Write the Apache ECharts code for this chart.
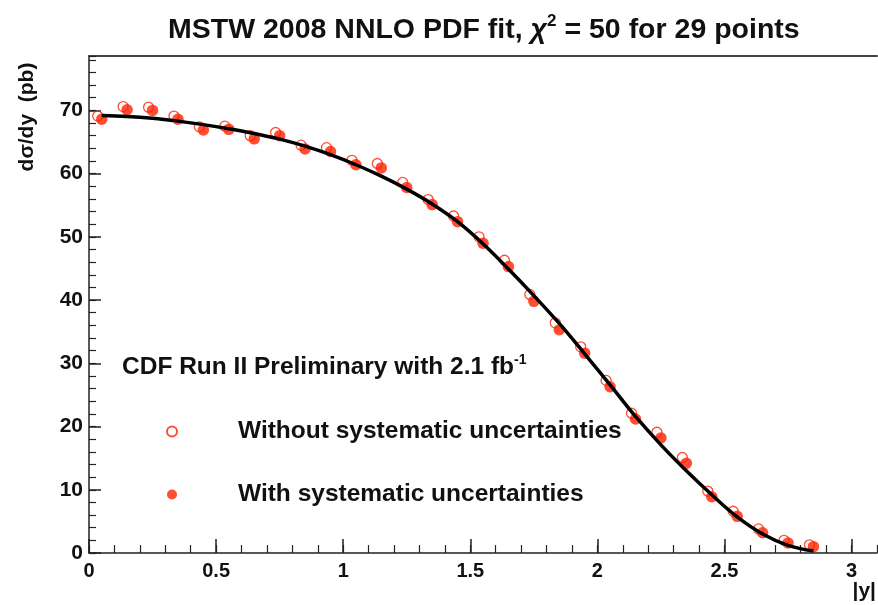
<!DOCTYPE html>
<html>
<head>
<meta charset="utf-8">
<script src="https://cdn.jsdelivr.net/npm/echarts@6/dist/echarts.min.js"></script>
<style>
html,body{margin:0;padding:0;background:#fff;}
#chart{width:878px;height:605px;}
</style>
</head>
<body>
<div id="chart"></div>
<script>
// |y| bin centres
const rapidity = [0.05,0.15,0.25,0.35,0.45,0.55,0.65,0.75,0.85,0.95,1.05,1.15,1.25,1.35,1.45,1.55,1.65,1.75,1.85,1.95,2.05,2.15,2.25,2.35,2.45,2.55,2.65,2.75,2.85];
// dσ/dy (pb), with systematic uncertainties (filled)
const xsecWithSyst = [68.6,70.1,70.0,68.6,66.9,67.0,65.5,66.0,63.9,63.5,61.4,60.9,57.8,55.1,52.4,49.0,45.3,39.8,35.3,31.6,26.3,21.2,18.2,14.2,8.9,5.8,3.2,1.6,1.0];
// dσ/dy (pb), without systematic uncertainties (open)
const xsecWithoutSyst = [69.1,70.6,70.5,69.1,67.4,67.5,66.0,66.5,64.5,64.1,62.1,61.6,58.6,55.9,53.3,50.0,46.3,40.9,36.4,32.6,27.3,22.1,19.1,15.1,9.8,6.6,3.8,2.0,1.3];
// MSTW 2008 NNLO prediction
const theoryMSTW = [69.2,69.05,68.75,68.3,67.75,67.1,66.35,65.45,64.35,63.0,61.4,59.6,57.55,55.2,52.4,48.9,44.9,40.7,36.3,31.5,26.6,21.6,17.1,13.0,9.2,5.7,3.0,1.2,0.3];
// tick labels
const xMajorTicks = [0,0.5,1,1.5,2,2.5,3];
const yMajorTicks = [0,10,20,30,40,50,60,70];

const RED = '#ff2200';
const FONT = 'Liberation Sans, Arial, Helvetica, sans-serif';

const pairs = (xs, ys) => xs.map((x, i) => [x, ys[i]]);

const chart = echarts.init(document.getElementById('chart'), null, {renderer: 'canvas'});
const axisLineStyle = {color: '#222', width: 1.5};

chart.setOption({
  animation: false,
  backgroundColor: '#fff',
  title: {
    text: '{a|MSTW 2008 NNLO PDF fit,}{c| χ}{s|2}{a| = 50 for 29 points}',
    left: 163, top: 8,
    textStyle: {
      rich: {
        a: {fontFamily: FONT, fontWeight: 'bold', fontSize: 28.5, color: '#111', lineHeight: 34},
        c: {fontFamily: FONT, fontStyle: 'italic', fontWeight: 'bold', fontSize: 28.5, color: '#111', lineHeight: 34},
        s: {fontFamily: FONT, fontWeight: 'bold', fontSize: 17, color: '#111', verticalAlign: 'top', lineHeight: 22}
      }
    }
  },
  grid: {left: 89, right: 1, top: 56, bottom: 52},
  xAxis: [
    {
      type: 'value', min: 0, max: 3.1, position: 'bottom',
      axisLine: {show: true, lineStyle: axisLineStyle},
      axisTick: {show: true, inside: true, length: 14, lineStyle: {color: '#222', width: 1.5}, customValues: xMajorTicks},
      minorTick: {show: false},
      splitLine: {show: false},
      axisLabel: {customValues: xMajorTicks, fontFamily: FONT, fontWeight: 'bold', fontSize: 20, color: '#111', margin: 8}
    },
    {
      type: 'value', min: 0, max: 3.1, interval: 0.1, position: 'bottom',
      axisLine: {show: false},
      axisTick: {show: true, inside: true, length: 8, lineStyle: {color: '#222', width: 1.2}},
      splitLine: {show: false},
      axisLabel: {show: false}
    },
    {
      type: 'value', min: 0, max: 3.1, position: 'top',
      axisLine: {show: true, lineStyle: {color: '#444', width: 2}},
      axisTick: {show: false}, splitLine: {show: false}, axisLabel: {show: false}
    }
  ],
  yAxis: [
    {
      type: 'value', min: 0, max: 78.6, position: 'left',
      axisLine: {show: true, lineStyle: axisLineStyle},
      axisTick: {show: true, inside: true, length: 12, lineStyle: {color: '#222', width: 1.5}, customValues: yMajorTicks},
      splitLine: {show: false},
      axisLabel: {customValues: yMajorTicks, fontFamily: FONT, fontWeight: 'bold', fontSize: 21, color: '#111', margin: 6}
    },
    {
      type: 'value', min: 0, max: 78.6, interval: 2, position: 'left',
      axisLine: {show: false},
      axisTick: {show: true, inside: true, length: 7, lineStyle: {color: '#222', width: 1.2}},
      splitLine: {show: false},
      axisLabel: {show: false}
    }
  ],
  legend: {
    orient: 'vertical',
    left: 161, top: 414,
    itemWidth: 10, itemHeight: 10,
    itemGap: 38,
    selectedMode: false,
    textStyle: {fontFamily: FONT, fontWeight: 'bold', fontSize: 24.5, color: '#111', padding: [0, 0, 0, 56]},
    data: ['Without systematic uncertainties', 'With systematic uncertainties']
  },
  graphic: [
    {
      type: 'text', left: 122, top: 353,
      style: {
        text: '{t|CDF Run II Preliminary with 2.1 fb}{s|-1}',
        rich: {
          t: {fontFamily: FONT, fontWeight: 'bold', fontSize: 24.5, fill: '#111', lineHeight: 28},
          s: {fontFamily: FONT, fontWeight: 'bold', fontSize: 14, fill: '#111', verticalAlign: 'top', lineHeight: 16}
        }
      }
    },
    {
      type: 'text', x: 27, y: 117, rotation: Math.PI / 2,
      style: {text: 'dσ/dy  (pb)', fontFamily: FONT, fontWeight: 'bold', fontSize: 21, fill: '#111', textAlign: 'center', textVerticalAlign: 'middle'}
    },
    {
      type: 'text', x: 876, y: 591,
      style: {text: '|y|', fontFamily: FONT, fontWeight: 'bold', fontSize: 21, fill: '#111', textAlign: 'right', textVerticalAlign: 'middle'}
    }
  ],
  series: [
    {
      name: 'Without systematic uncertainties',
      type: 'scatter', xAxisIndex: 0, yAxisIndex: 0,
      symbol: 'circle', symbolSize: 10, symbolOffset: [-4, 0],
      itemStyle: {color: 'rgba(255,255,255,0)', borderColor: RED, borderWidth: 1.3},
      data: pairs(rapidity, xsecWithoutSyst), z: 2
    },
    {
      name: 'With systematic uncertainties',
      type: 'scatter', xAxisIndex: 0, yAxisIndex: 0,
      symbol: 'circle', symbolSize: 11.5,
      itemStyle: {color: RED},
      data: pairs(rapidity, xsecWithSyst), z: 3
    },
    {
      name: 'MSTW 2008 NNLO',
      type: 'line', xAxisIndex: 0, yAxisIndex: 0,
      smooth: 0.4, showSymbol: false, symbol: 'none',
      lineStyle: {color: '#000', width: 3.5},
      data: pairs(rapidity, theoryMSTW), z: 5
    }
  ]
});
</script>
</body>
</html>
